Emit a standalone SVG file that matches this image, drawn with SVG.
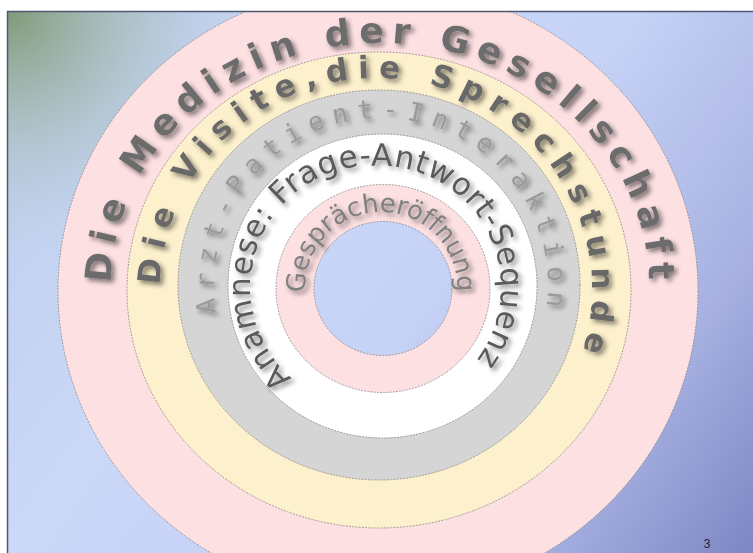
<svg xmlns="http://www.w3.org/2000/svg" width="753" height="553" viewBox="0 0 753 553">
<defs>
<linearGradient id="bg" gradientUnits="userSpaceOnUse" x1="7" y1="11" x2="753" y2="553">
<stop offset="0" stop-color="#bccde8"/>
<stop offset="0.35" stop-color="#cbd8f8"/>
<stop offset="0.55" stop-color="#c6d2f6"/>
<stop offset="0.8" stop-color="#a8b2e2"/>
<stop offset="1" stop-color="#7e86c4"/>
</linearGradient>
<radialGradient id="tl" gradientUnits="userSpaceOnUse" cx="7" cy="11" r="260">
<stop offset="0" stop-color="#7f9a76" stop-opacity="1"/>
<stop offset="0.45" stop-color="#9fb4a8" stop-opacity="0.55"/>
<stop offset="1" stop-color="#c4d2f2" stop-opacity="0"/>
</radialGradient>
<clipPath id="slide"><rect x="7" y="11" width="746" height="542"/></clipPath>
<filter id="sh" x="-20%" y="-20%" width="140%" height="140%">
<feGaussianBlur in="SourceAlpha" stdDeviation="2.4" result="b"/>
<feOffset in="b" dx="3" dy="3" result="o"/>
<feComponentTransfer in="o" result="s"><feFuncA type="linear" slope="0.5"/></feComponentTransfer>
<feGaussianBlur in="SourceGraphic" stdDeviation="0.6" result="g"/>
<feMerge><feMergeNode in="s"/><feMergeNode in="g"/></feMerge>
</filter>
<path id="p1" d="M 111,285 A 269 242 0 0 1 380,43 A 269 242 0 0 1 649,285 A 269 242 0 0 1 380,527"/>
<path id="p2" d="M 163.3,326.8 A 216 212 0 0 1 376,78 A 216 212 0 0 1 592,290 A 216 212 0 0 1 376,502"/>
<path id="p3" d="M 216.3,312.9 A 167 167 0 0 1 381,118 A 167 167 0 0 1 548,285 A 167 167 0 0 1 464.5,429.6"/>
<path id="p4" d="M 292,378 A 121 121 0 0 1 380,166 A 121 121 0 0 1 501,287 A 121 121 0 0 1 380,408"/>
<path id="p5" d="M 305.1,292.6 A 76 76 0 0 1 381,212 A 76 76 0 0 1 457,288 A 76 76 0 0 1 381,364"/>
</defs>
<style>
.ring{stroke:#8a8a8a;stroke-width:0.8;stroke-dasharray:2 1.2}
.t{font-family:"DejaVu Sans","Verdana",sans-serif;filter:url(#sh)}
.mono{font-family:"DejaVu Sans Mono",monospace}
.bold{font-weight:bold}
</style>
<rect x="0" y="0" width="753" height="553" fill="#ffffff"/>
<g id="background">
<rect x="7" y="11" width="746" height="542" fill="url(#bg)"/>
<rect x="7" y="11" width="746" height="542" fill="url(#tl)"/>
</g>
<g clip-path="url(#slide)">
<g id="ring-gesellschaft">
<ellipse class="ring" cx="378" cy="291" rx="320" ry="307" fill="#fde0e2"/>
</g>
<g id="ring-sprechstunde">
<ellipse class="ring" cx="379" cy="290" rx="252" ry="238" fill="#fdf0cc"/>
</g>
<g id="ring-interaktion">
<ellipse class="ring" cx="379" cy="285" rx="201" ry="195" fill="#d5d5d5"/>
</g>
<g id="ring-anamnese">
<ellipse class="ring" cx="382.5" cy="286" rx="154.5" ry="152" fill="#ffffff"/>
</g>
<g id="ring-gespraechseroeffnung">
<ellipse class="ring" cx="383" cy="288.5" rx="107" ry="104" fill="#fde0e2"/>
<ellipse class="ring" cx="383" cy="288.5" rx="69" ry="67" fill="url(#bg)"/>
</g>
</g>
<g id="connectors"/>
<g id="label-gesellschaft"><text class="t bold" font-size="36" fill="#6c6c6c" letter-spacing="8"><textPath href="#p1" startOffset="2">Die Medizin der Gesellschaft</textPath></text></g>
<g id="label-sprechstunde"><text class="t bold" font-size="31" fill="#686868" letter-spacing="9.35"><textPath href="#p2" startOffset="42">Die Visite,die Sprechstunde</textPath></text></g>
<g id="label-interaktion"><text class="t mono" font-size="26" fill="#9a9a9a" letter-spacing="8.6"><textPath href="#p3">Arzt-Patient-Interaktion</textPath></text></g>
<g id="label-anamnese"><text class="t" font-size="31" fill="#5a5a5a" letter-spacing="0.75"><textPath href="#p4">Anamnese: Frage-Antwort-Sequenz</textPath></text></g>
<g id="label-gespraechseroeffnung"><text class="t" font-size="26" fill="#808080" letter-spacing="-0.2"><textPath href="#p5">Gesprächeröffnung</textPath></text></g>
<line x1="7.5" y1="11" x2="7.5" y2="553" stroke="#4e5872" stroke-width="1.5"/>
<line x1="7" y1="11.5" x2="753" y2="11.5" stroke="#4e5872" stroke-width="1.5"/>
<text x="707" y="548" font-family="Liberation Sans, Arial, sans-serif" font-size="12" fill="#1c2244" text-anchor="middle">3</text>
</svg>
